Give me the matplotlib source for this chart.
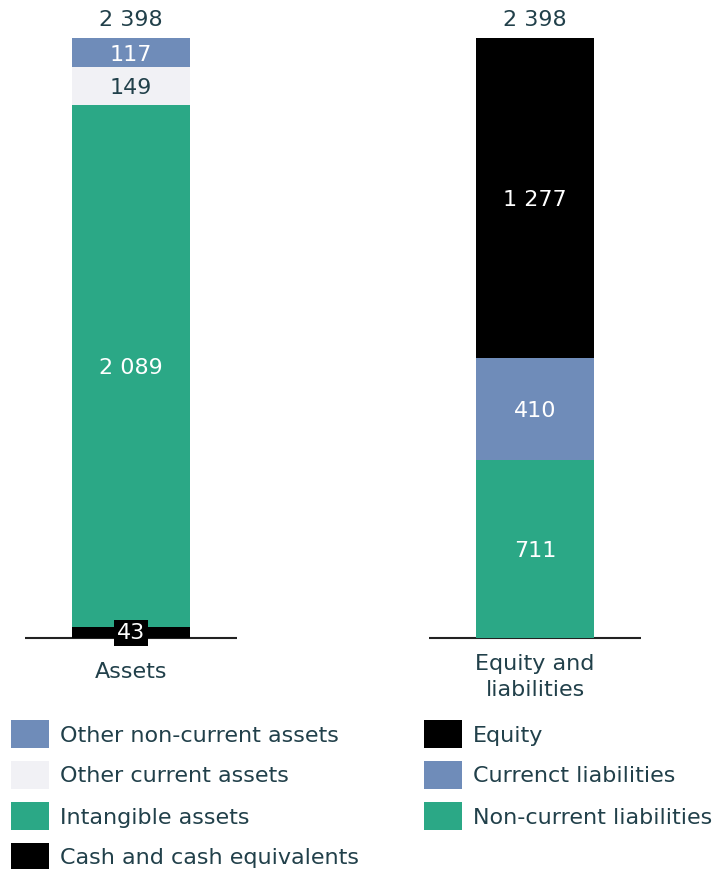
import matplotlib.pyplot as plt
from matplotlib.patches import Rectangle

plt.rcParams['font.family'] = ['DejaVu Sans']

# Balance sheet data
categories = ['Assets', 'Equity and\nliabilities']

asset_names = ['Cash and cash equivalents', 'Intangible assets',
               'Other current assets', 'Other non-current assets']
asset_values = [43, 2089, 149, 117]

liab_names = ['Non-current liabilities', 'Currenct liabilities', 'Equity']
liab_values = [711, 410, 1277]

BLUE = '#6f8cb9'
LIGHT = '#f1f1f5'
GREEN = '#2ba886'
BLACK = '#000000'
TEXT = '#21404a'
FS = 16

asset_colors = [BLACK, GREEN, LIGHT, BLUE]
liab_colors = [GREEN, BLUE, BLACK]


def fmt(v):
    return f'{v:,}'.replace(',', ' ')


W, H = 726, 869
fig = plt.figure(figsize=(W / 100, H / 100), dpi=100)
# axes covers the area above the baseline (pixel row 638)
ax = fig.add_axes([0, (H - 638) / H, 1, 638 / H])
px = 404  # pixels between bar centres
ax.set_xlim(-131 / px, (W - 131) / px)
total = sum(asset_values)
ax.set_ylim(0, total * 638 / 600)
ax.axis('off')

bar_w = 118 / px
k = 600 / total  # pixels per unit


def stack(x, values, colors):
    bottom = 0
    for v, c in zip(values, colors):
        ax.bar(x, v, bottom=bottom, width=bar_w, color=c, linewidth=0)
        mid = bottom + v / 2 - 2 / k
        tc = TEXT if c == LIGHT else 'white'
        if v < 80:
            ax.text(x, 5 / k, fmt(v), ha='center', va='center', color='white',
                    fontsize=FS, clip_on=False,
                    bbox=dict(boxstyle='square,pad=0.15', fc=BLACK, ec='none'))
        else:
            ax.text(x, mid, fmt(v), ha='center', va='center', color=tc,
                    fontsize=FS)
        bottom += v
    ax.text(x, bottom + 18 / k, fmt(bottom), ha='center', va='center',
            color=TEXT, fontsize=FS)
    ax.plot([x - 106 / px, x + 106 / px], [0, 0], color='#222222', lw=1.5,
            clip_on=False, solid_capstyle='butt', zorder=0)


stack(0, asset_values, asset_colors)
stack(1, liab_values, liab_colors)

# category labels under the baseline
ax.text(0, -34 / k, categories[0], ha='center', va='center',
        color=TEXT, fontsize=FS, clip_on=False)
ax.text(1, -39 / k, categories[1], ha='center', va='center',
        color=TEXT, fontsize=FS, linespacing=1.35, clip_on=False)


# legends drawn in pixel positions
def legend(x_patch, x_text, names, colors, y0):
    for i, (n, c) in enumerate(zip(names, colors)):
        yc = y0 + i * 41
        fig.patches.append(Rectangle((x_patch / W, 1 - (yc + 14) / H), 38 / W, 28 / H,
                                     transform=fig.transFigure, fc=c, ec='none'))
        fig.text(x_text / W, 1 - (yc + 1.5) / H, n, ha='left', va='center',
                 color=TEXT, fontsize=FS)


legend(11, 60, asset_names[::-1], asset_colors[::-1], 734)
legend(424, 473, liab_names[::-1], liab_colors[::-1], 734)

fig.savefig('out.png', dpi=100)
